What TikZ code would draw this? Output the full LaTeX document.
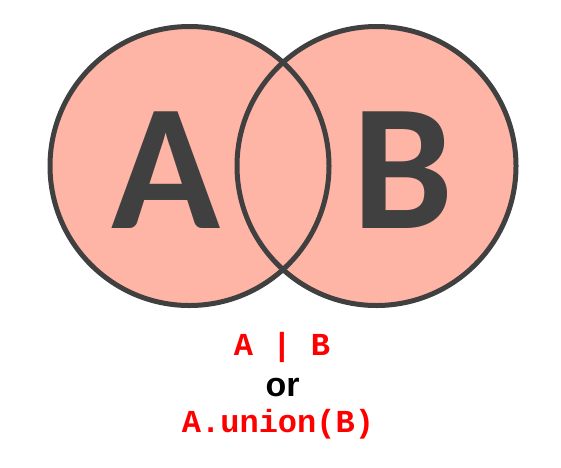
\documentclass[tikz,border=0pt]{standalone}
\usepackage{fontspec}
\setmainfont{Liberation Sans}
\setmonofont{Liberation Mono}
\newfontfamily\letterfont{Carlito}
\usetikzlibrary{positioning}
\definecolor{setfill}{HTML}{FFB5A6}
\definecolor{setline}{HTML}{404040}
\definecolor{opred}{HTML}{FF0000}

\begin{document}
\begin{tikzpicture}[
    x=1pt, y=-1pt,
    setc/.style={circle, fill=setfill, minimum size=279pt, inner sep=0pt},
    ring/.style={circle, draw=setline, line width=5pt, minimum size=279pt, inner sep=0pt},
    letter/.style={text=setline, font=\letterfont\bfseries\fontsize{180}{180}\selectfont, inner sep=0pt, anchor=base},
    code/.style={text=opred, font=\ttfamily\bfseries\fontsize{32}{32}\selectfont, inner sep=0pt, anchor=base},
    word/.style={font=\bfseries\fontsize{34}{34}\selectfont, inner sep=0pt, anchor=base},
  ]
    \useasboundingbox (0,0) rectangle (561,467);
    % the two sets
    \node[setc] (fillA) at (189.5,166) {};
    \node[setc] (fillB) at (376.5,166) {};
    \node[ring] (setA) at (fillA) {};
    \node[ring] (setB) at (fillB) {};
    \node[letter] (lblA) at (166.5,228) {A};
    \node[letter] (lblB) at (402.5,228) {B};

    % the operators
    \node[code] (op) at (282,355) {A | B};
    \node[word] (or) at (282.5,396) {or};
    \node[code] (meth) at (278,432) {A.union(B)};
  \end{tikzpicture}
\end{document}
